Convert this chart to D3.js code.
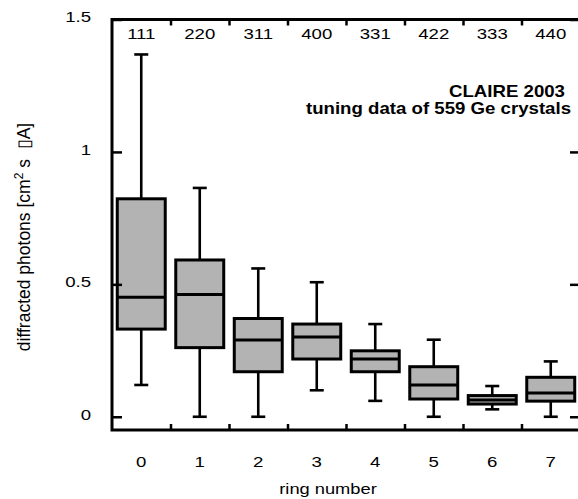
<!DOCTYPE html>
<html lang="en">
<head>
<meta charset="UTF-8" />
<title>CLAIRE 2003 ring boxplot</title>
<style>
  body { margin: 0; background: #fff; }
  svg text { font-family: "Liberation Sans", Arial, sans-serif; }
</style>
</head>
<body>
<script src="https://cdn.jsdelivr.net/npm/d3@7"></script>
<div id="app"></div>
<script>
// data
const rings = [0, 1, 2, 3, 4, 5, 6, 7];
const reflections = ["111", "220", "311", "400", "331", "422", "333", "440"];
const whiskerLow  = [0.12, 0.0, 0.0, 0.10, 0.06, 0.0, 0.028, 0.0];
const q1          = [0.331, 0.261, 0.17, 0.218, 0.17, 0.067, 0.048, 0.059];
const median      = [0.451, 0.462, 0.29, 0.301, 0.218, 0.12, 0.063, 0.09];
const q3          = [0.823, 0.592, 0.371, 0.35, 0.249, 0.189, 0.08, 0.149];
const whiskerHigh = [1.368, 0.864, 0.56, 0.508, 0.35, 0.291, 0.116, 0.209];
const yTicks = [0, 0.5, 1, 1.5];

//Canvas
const w = 578, h = 499;
const pLeft = 112, pRight = 580, pTop = 19.5, pBottom = 430;

const svg = d3.select("#app").append("svg")
  .attr("width", w).attr("height", h);

const x = d3.scaleBand().domain(rings).range([pLeft, pRight]).padding(0);
const xEdge = d3.scaleLinear().domain([-0.5, 7.5]).range([pLeft, pRight]);
const y = d3.scaleLinear().domain([-0.05, 1.5]).range([pBottom, pTop]);

const boxes = rings.map((r, i) => ({
  ring: r, lo: whiskerLow[i], q1: q1[i], med: median[i], q3: q3[i], hi: whiskerHigh[i]
}));

// the reference type is a bit wider than Arial: stretch it sideways
function stretch(sel, sx) {
  sel.each(function() {
    const t = d3.select(this);
    const xv = +t.attr("x") || 0;
    t.attr("x", xv / sx).attr("transform", "scale(" + sx + ",1)");
  });
}

//Boxes
const boxW = x.bandwidth() * 0.82;
const capW = 14;
const g = svg.selectAll("g.box").data(boxes).enter().append("g")
  .attr("class", "box")
  .attr("transform", d => "translate(" + (x(d.ring) + x.bandwidth() / 2) + ",0)");

g.append("line").attr("x1", 0).attr("x2", 0)
  .attr("y1", d => y(d.hi)).attr("y2", d => y(d.lo))
  .attr("stroke", "#000").attr("stroke-width", 2.6);
g.append("line").attr("x1", -capW / 2).attr("x2", capW / 2)
  .attr("y1", d => y(d.hi)).attr("y2", d => y(d.hi))
  .attr("stroke", "#000").attr("stroke-width", 2.6);
g.append("line").attr("x1", -capW / 2).attr("x2", capW / 2)
  .attr("y1", d => y(d.lo)).attr("y2", d => y(d.lo))
  .attr("stroke", "#000").attr("stroke-width", 2.6);
g.append("rect")
  .attr("x", -boxW / 2).attr("width", boxW)
  .attr("y", d => y(d.q3)).attr("height", d => y(d.q1) - y(d.q3))
  .attr("fill", "#b3b3b3").attr("stroke", "#000").attr("stroke-width", 3);
g.append("line").attr("x1", -boxW / 2).attr("x2", boxW / 2)
  .attr("y1", d => y(d.med)).attr("y2", d => y(d.med))
  .attr("stroke", "#000").attr("stroke-width", 3);

//Axes
const fs = 15.5;
const sx = 1.2;
const yLeft = svg.append("g").attr("transform", "translate(" + pLeft + ",0)")
  .call(d3.axisLeft(y).tickValues(yTicks).tickSize(-10).tickPadding(21)
    .tickFormat(d => d3.format("")(d)));
const yRight = svg.append("g").attr("transform", "translate(" + pRight + ",0)")
  .call(d3.axisRight(y).tickValues(yTicks).tickSize(-10).tickFormat(""));
const xBotTicks = svg.append("g").attr("transform", "translate(0," + pBottom + ")")
  .call(d3.axisBottom(xEdge).tickValues(d3.range(0.5, 7, 1)).tickSize(-6).tickFormat(""));
const xTopTicks = svg.append("g").attr("transform", "translate(0," + pTop + ")")
  .call(d3.axisTop(xEdge).tickValues(d3.range(0.5, 7, 1)).tickSize(-6).tickFormat(""));
const xBot = svg.append("g").attr("transform", "translate(0," + pBottom + ")")
  .call(d3.axisBottom(x).tickSize(0).tickPadding(26));
const xTop = svg.append("g").attr("transform", "translate(0," + pTop + ")")
  .call(d3.axisTop(x).tickSize(0).tickPadding(-20).tickFormat((d, i) => reflections[i]));

[yLeft, yRight, xBotTicks, xTopTicks, xBot, xTop].forEach(a => {
  a.select(".domain").remove();
  a.selectAll("line").attr("stroke", "#000").attr("stroke-width", 2.5);
  a.selectAll("text").attr("font-size", fs).attr("font-family", "Liberation Sans, Arial, sans-serif").attr("fill", "#000");
  stretch(a.selectAll("text"), sx);
});
yLeft.selectAll("text").attr("dy", "0.15em");

//Frame
svg.append("rect")
  .attr("x", pLeft).attr("y", pTop)
  .attr("width", pRight - pLeft).attr("height", pBottom - pTop)
  .attr("fill", "none").attr("stroke", "#000").attr("stroke-width", 3);

//Labels
svg.append("text")
  .attr("x", 328).attr("y", 494)
  .attr("text-anchor", "middle").attr("font-size", fs)
  .text("ring number")
  .call(stretch, 1.18);

const yl = svg.append("text")
  .attr("transform", "translate(29.5,237) rotate(-90)")
  .attr("text-anchor", "middle").attr("font-size", 17.5);
yl.append("tspan").text("diffracted photons [cm");
yl.append("tspan").attr("dy", -7).attr("font-size", 12).text("2");
yl.append("tspan").attr("dy", 7).style("white-space", "pre").text(" s  \u25AFA]");

svg.append("text")
  .attr("x", 565).attr("y", 97).attr("text-anchor", "end")
  .attr("font-size", 16).attr("font-weight", "bold")
  .text("CLAIRE 2003")
  .call(stretch, 1.165);
svg.append("text")
  .attr("x", 571).attr("y", 114).attr("text-anchor", "end")
  .attr("font-size", 16).attr("font-weight", "bold")
  .text("tuning data of 559 Ge crystals")
  .call(stretch, 1.165);
</script>
</body>
</html>
